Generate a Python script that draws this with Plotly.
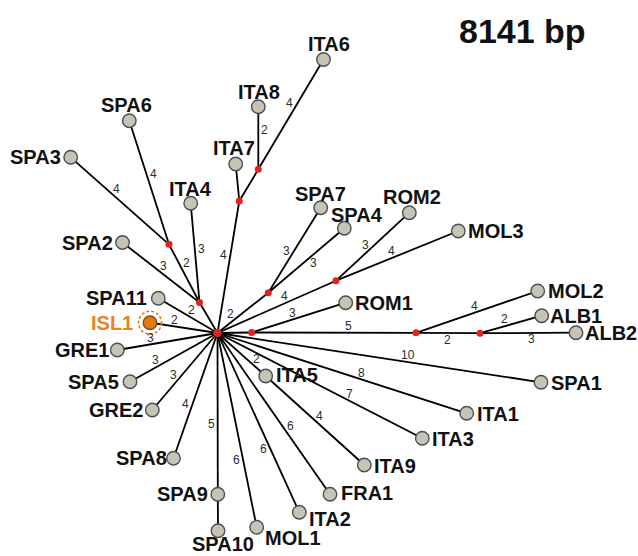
import numpy as np
import plotly.graph_objects as go

# ---------------- data ----------------
# sampled haplotypes and their network layout coordinates
HAPLOTYPES = ["SPA3", "SPA6", "ITA4", "SPA2", "SPA11", "ISL1", "ITA7", "ITA8", "ITA6",
              "SPA7", "SPA4", "ROM2", "MOL3", "ROM1", "MOL2", "ALB1", "ALB2", "SPA1",
              "ITA1", "ITA3", "ITA5", "ITA9", "FRA1", "ITA2", "MOL1", "SPA9", "SPA10",
              "SPA8", "GRE2", "SPA5", "GRE1"]
HAP_X = [70.7, 129.3, 190.7, 122.5, 158.3, 150.0, 235.7, 258.3, 323.5,
         320.7, 344.3, 409.3, 458.3, 345.7, 537.7, 541.7, 576.0, 541.0,
         466.7, 422.3, 265.7, 364.3, 330.0, 299.3, 256.7, 217.8, 218.0,
         173.5, 152.3, 130.0, 117.3]
HAP_Y = [157.3, 120.7, 203.3, 242.5, 298.3, 322.7, 164.0, 106.7, 59.5,
         207.7, 228.3, 212.7, 231.0, 302.7, 291.0, 315.7, 332.7, 382.3,
         413.3, 438.3, 376.0, 465.0, 494.3, 512.3, 527.3, 494.3, 530.7,
         458.3, 410.0, 381.7, 350.0]

# inferred median vectors (unsampled nodes); "H" is the central hub
MEDIANS = ["H", "mv1", "mv2", "mv3", "mv4", "mv5", "mv6", "mv7", "mv8", "mv9"]
MED_X = [217.5, 169.0, 199.5, 239.3, 258.3, 268.3, 336.0, 251.7, 416.0, 480.0]
MED_Y = [333.0, 244.3, 302.5, 201.0, 169.3, 292.7, 280.7, 332.5, 332.8, 333.2]

# network links and number of mutational steps along each
EDGE_FROM = ["H", "mv2", "mv1", "mv1", "mv2", "mv2", "H", "H", "H", "mv3", "mv3", "mv4",
             "mv4", "H", "mv5", "mv5", "H", "mv6", "mv6", "H", "mv7", "mv7", "mv8",
             "mv8", "mv9", "mv9", "H", "H", "H", "H", "ITA5", "H", "H", "H", "H",
             "SPA9", "H", "H", "H", "H"]
EDGE_TO = ["mv2", "mv1", "SPA3", "SPA6", "ITA4", "SPA2", "SPA11", "ISL1", "mv3", "ITA7",
           "mv4", "ITA8", "ITA6", "mv5", "SPA7", "SPA4", "mv6", "ROM2", "MOL3", "mv7",
           "ROM1", "mv8", "MOL2", "mv9", "ALB1", "ALB2", "SPA1", "ITA1", "ITA3", "ITA5",
           "ITA9", "FRA1", "ITA2", "MOL1", "SPA9", "SPA10", "SPA8", "GRE2", "SPA5", "GRE1"]
EDGE_STEPS = [1, 2, 4, 4, 3, 3, 2, 2, 4, 1, 1, 2, 4, 2, 3, 3, 4, 3, 4, 1,
              3, 5, 4, 2, 2, 3, 10, 8, 7, 2, 4, 6, 6, 6, 5, 1, 4, 3, 3, 3]

TITLE = "8141 bp"
HIGHLIGHT = "ISL1"

# ---------------- styling ----------------
FONT = "Liberation Sans, Arial, Helvetica, sans-serif"
NODE_FILL = "#C5C4B6"
NODE_EDGE = "#4F4F4F"
MEDIAN_RED = "#E3231C"
ORANGE = "#E07A12"
ORANGE_TEXT = "#E9821F"

# where along each link the step count sits (fraction), and on which side
STEP_T = [0.5, 0.62, 0.58, 0.55, 0.53, 0.52, 0.49, 0.655, 0.58, 0.5, 0.5, 0.63, 0.57,
          0.34, 0.455, 0.54, 0.59, 0.46, 0.47, 0.5, 0.45, 0.59, 0.5, 0.5, 0.43, 0.54,
          0.585, 0.57, 0.63, 0.71, 0.5, 0.6, 0.63, 0.645, 0.566, 0.5, 0.583, 0.6, 0.677,
          0.657]
STEP_SIDE = [1, 1, 1, 1, 1, 1, 1, 1, -1, 1, 1, 1, -1, -1, -1, 1, -1, -1, -1, 1,
             -1, -1, -1, 1, -1, 1, -1, -1, -1, -1, -1, -1, 1, 1, 1, 1, 1, 1, 1, 1]
STEP_OFFSET = 6.5

# label placement per haplotype: (x anchor, y anchor, dx, dy) in pixels
LABEL_PLACE = {
    "SPA3": ("right", "middle", -8.5, 0), "SPA6": ("center", "middle", -3, -16),
    "ITA4": ("center", "middle", -0.5, -14.5), "SPA2": ("right", "middle", -9, 0),
    "SPA11": ("right", "middle", -10, 0), "ISL1": ("right", "middle", -16.5, 0),
    "ITA7": ("center", "middle", -2, -16.5), "ITA8": ("center", "middle", 1, -15),
    "ITA6": ("center", "middle", 5.5, -16), "SPA7": ("center", "middle", -0.5, -14),
    "SPA4": ("center", "middle", 13, -13.5), "ROM2": ("center", "middle", 2.5, -15.5),
    "MOL3": ("left", "middle", 8.5, 0), "ROM1": ("left", "middle", 8.5, 0),
    "MOL2": ("left", "middle", 9, 0), "ALB1": ("left", "middle", 7, 0),
    "ALB2": ("left", "middle", 8, 0), "SPA1": ("left", "middle", 9, 0.5),
    "ITA1": ("left", "middle", 9.5, 0.5), "ITA3": ("left", "middle", 9, 0.5),
    "ITA5": ("left", "middle", 9, -1), "ITA9": ("left", "middle", 9, 1),
    "FRA1": ("left", "middle", 10, -1), "ITA2": ("left", "middle", 9, 6.5),
    "MOL1": ("left", "middle", 7.5, 10.5), "SPA9": ("right", "middle", -9, 0),
    "SPA10": ("center", "middle", 5, 13.5), "SPA8": ("right", "middle", -6, 0),
    "GRE2": ("right", "middle", -8, 0), "SPA5": ("right", "middle", -10, 0),
    "GRE1": ("right", "middle", -7, 0),
}

# ---------------- build ----------------
pos = {n: (x, y) for n, x, y in zip(HAPLOTYPES, HAP_X, HAP_Y)}
pos.update({n: (x, y) for n, x, y in zip(MEDIANS, MED_X, MED_Y)})

fig = go.Figure()

# links
lx, ly = [], []
for a, b in zip(EDGE_FROM, EDGE_TO):
    lx += [pos[a][0], pos[b][0], None]
    ly += [pos[a][1], pos[b][1], None]
fig.add_trace(go.Scatter(x=lx, y=ly, mode="lines",
                         line=dict(color="#000000", width=1.8),
                         hoverinfo="skip", showlegend=False))

# median vectors
fig.add_trace(go.Scatter(x=MED_X[1:], y=MED_Y[1:], mode="markers",
                         marker=dict(size=7, color=MEDIAN_RED, line=dict(width=0)),
                         hoverinfo="skip", showlegend=False))
fig.add_trace(go.Scatter(x=MED_X[:1], y=MED_Y[:1], mode="markers",
                         marker=dict(size=8.5, color=MEDIAN_RED, line=dict(width=0)),
                         hoverinfo="skip", showlegend=False))

# sampled haplotypes
fills = [ORANGE if n == HIGHLIGHT else NODE_FILL for n in HAPLOTYPES]
outlines = ["#8A4A0C" if n == HIGHLIGHT else NODE_EDGE for n in HAPLOTYPES]
fig.add_trace(go.Scatter(x=HAP_X, y=HAP_Y, mode="markers", text=HAPLOTYPES,
                         marker=dict(size=13.5, color=fills,
                                     line=dict(color=outlines, width=1.4)),
                         hoverinfo="text", showlegend=False))

# dashed ring around the highlighted haplotype
hx, hy = pos[HIGHLIGHT]
ring = 11.5
fig.add_shape(type="circle", xref="x", yref="y",
              x0=hx - ring, x1=hx + ring, y0=hy - ring, y1=hy + ring,
              line=dict(color=ORANGE, width=1.5, dash="3px,2px"))

annotations = []

# haplotype names
for n in HAPLOTYPES:
    xa, ya, dx, dy = LABEL_PLACE[n]
    x, y = pos[n]
    annotations.append(dict(
        x=x + dx, y=y + dy, xref="x", yref="y", text=f"<b>{n}</b>", showarrow=False,
        xanchor=xa, yanchor=ya, borderpad=0,
        font=dict(family=FONT, size=20,
                  color=ORANGE_TEXT if n == HIGHLIGHT else "#111111")))

# mutational step counts along links
for a, b, s, t, side in zip(EDGE_FROM, EDGE_TO, EDGE_STEPS, STEP_T, STEP_SIDE):
    if s <= 1:
        continue
    ax_, ay_ = pos[a]
    bx_, by_ = pos[b]
    d = np.array([bx_ - ax_, by_ - ay_])
    u = d / np.linalg.norm(d)
    nvec = np.array([-u[1], u[0]]) * side * STEP_OFFSET
    px = ax_ + t * d[0] + nvec[0]
    py = ay_ + t * d[1] + nvec[1]
    annotations.append(dict(
        x=px, y=py, xref="x", yref="y", text=str(s), showarrow=False,
        xanchor="center", yanchor="middle", borderpad=0,
        font=dict(family=FONT, size=12, color="#2B2B2B")))

# sequence length heading
annotations.append(dict(
    x=522, y=31, xref="x", yref="y", text=f"<b>{TITLE}</b>", showarrow=False,
    xanchor="center", yanchor="middle",
    font=dict(family=FONT, size=34, color="#111111")))

fig.update_layout(
    width=638, height=556,
    margin=dict(l=0, r=0, t=0, b=0),
    paper_bgcolor="white", plot_bgcolor="white",
    xaxis=dict(range=[0, 638], visible=False, fixedrange=True),
    yaxis=dict(range=[556, 0], visible=False, fixedrange=True),
    annotations=annotations,
    showlegend=False,
)

fig.write_html("out.html")
